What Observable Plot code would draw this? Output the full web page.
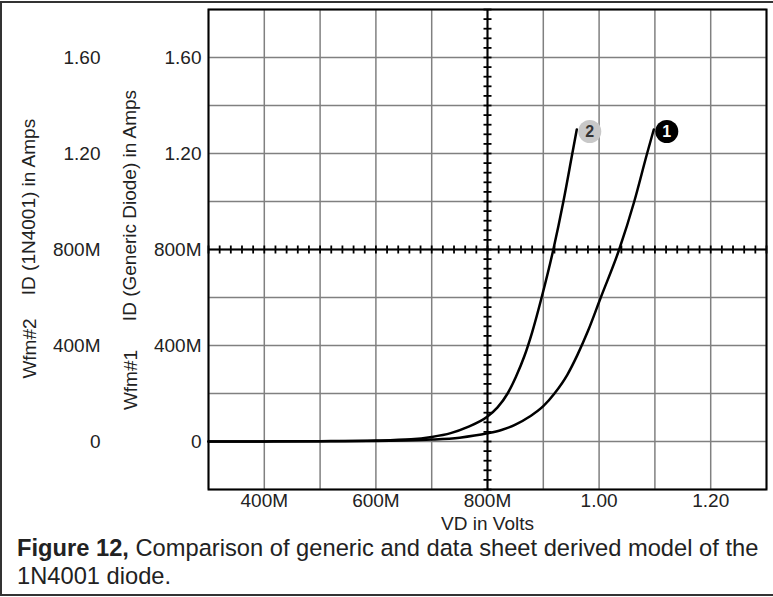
<!DOCTYPE html>
<html><head><meta charset="utf-8">
<script src="https://cdn.jsdelivr.net/npm/d3@7"></script>
<script src="https://cdn.jsdelivr.net/npm/@observablehq/plot@0.6"></script>
<style>
body{margin:0;background:#fff;font-family:"Liberation Sans",Arial,sans-serif;}
#wrap{position:relative;width:773px;height:597px;overflow:hidden;background:#fff;}
#border{position:absolute;left:0;top:1px;width:790px;height:595px;box-sizing:border-box;border:2px solid #333;pointer-events:none;}
#caption{margin-left:17px;font-size:23.7px;line-height:28px;color:#222;white-space:nowrap;}
#chart svg{display:block;}
</style></head><body>
<div id="wrap"><div id="chart"></div><div id="caption"><b>Figure 12,</b> Comparison of generic and data sheet derived model of the<br>1N4001 diode.</div><div id="border"></div></div>
<script>
// Wfm#1: ID (Generic Diode), marker 1
const vd1 = [0.30, 0.40, 0.50, 0.60, 0.65, 0.70, 0.75, 0.80, 0.825, 0.85, 0.875, 0.90, 0.92, 0.943, 0.961, 0.98, 1.003, 1.036, 1.063, 1.086, 1.098];
const id1 = [0, 0.0004, 0.001, 0.002, 0.004, 0.008, 0.016, 0.034, 0.048, 0.07, 0.103, 0.147, 0.2, 0.278, 0.36, 0.46, 0.6, 0.8, 1.0, 1.2, 1.3];
// Wfm#2: ID (1N4001), marker 2
const vd2 = [0.30, 0.40, 0.50, 0.60, 0.663, 0.70, 0.734, 0.764, 0.80, 0.818, 0.836, 0.851, 0.866, 0.88, 0.897, 0.918, 0.936, 0.952, 0.960];
const id2 = [0, 0.0005, 0.0015, 0.004, 0.009, 0.019, 0.035, 0.06, 0.104, 0.142, 0.2, 0.27, 0.355, 0.455, 0.6, 0.8, 1.0, 1.2, 1.3];

const xTicks = [0.4, 0.6, 0.8, 1.0, 1.2];
const xTickLabels = ["400M", "600M", "800M", "1.00", "1.20"];
const yTicks = [0, 0.4, 0.8, 1.2, 1.6];
const yTickLabels = ["0", "400M", "800M", "1.20", "1.60"];
const xGrid = [0.3, 0.4, 0.5, 0.6, 0.7, 0.8, 0.9, 1.0, 1.1, 1.2, 1.3];
const yGrid = [-0.2, 0, 0.2, 0.4, 0.6, 0.8, 1.0, 1.2, 1.4, 1.6, 1.8];
const xMinor = d3.range(0, 51).map(i => 0.3 + i * 0.02);
const yMinor = d3.range(0, 51).map(i => -0.2 + i * 0.04);
const crossX = 0.8, crossY = 0.8;

const s1 = vd1.map((v, i) => ({vd: v, id: id1[i]}));
const s2 = vd2.map((v, i) => ({vd: v, id: id2[i]}));
const markers = [
  {label: "1", vd: vd1[vd1.length - 1], id: id1[id1.length - 1], fill: "black", color: "white"},
  {label: "2", vd: vd2[vd2.length - 1], id: id2[id2.length - 1], fill: "#c8c8c8", color: "#333"}
];

const xFmt = new Map(xTicks.map((t, i) => [t, xTickLabels[i]]));
const yFmt = new Map(yTicks.map((t, i) => [t, yTickLabels[i]]));

const vTick = {draw(ctx, size) { const r = Math.sqrt(size / Math.PI); ctx.moveTo(0, -r); ctx.lineTo(0, r); }};
const hTick = {draw(ctx, size) { const r = Math.sqrt(size / Math.PI); ctx.moveTo(-r, 0); ctx.lineTo(r, 0); }};

const grid = {stroke: "#808080", strokeOpacity: 1, strokeWidth: 1.5};
const title = {text: d => d, frameAnchor: "left", rotate: -90, textAnchor: "middle"};

const chart = Plot.plot({
  width: 773, height: 534,
  marginTop: 9, marginBottom: 45, marginLeft: 208, marginRight: 7,
  style: {fontFamily: '"Liberation Sans", Arial, sans-serif', fontSize: "19px", color: "#222", background: "white", overflow: "visible"},
  x: {domain: [0.3, 1.3]},
  y: {domain: [-0.2, 1.8]},
  marks: [
    Plot.gridX(xGrid, grid),
    Plot.gridY(yGrid, grid),
    Plot.ruleX([crossX], {stroke: "black", strokeWidth: 2}),
    Plot.ruleY([crossY], {stroke: "black", strokeWidth: 2}),
    Plot.dot(xMinor, {x: d => d, y: () => crossY, symbol: vTick, r: 4, stroke: "black", strokeWidth: 1.8, fill: "none"}),
    Plot.dot(yMinor, {x: () => crossX, y: d => d, symbol: hTick, r: 4, stroke: "black", strokeWidth: 1.8, fill: "none"}),
    Plot.line(s2, {x: "vd", y: "id", curve: "monotone-x", stroke: "black", strokeWidth: 2.5}),
    Plot.line(s1, {x: "vd", y: "id", curve: "monotone-x", stroke: "black", strokeWidth: 2.5}),
    Plot.frame({stroke: "black", strokeWidth: 2}),
    Plot.axisX(xTicks, {tickSize: 0, tickPadding: 4, tickFormat: d => xFmt.get(d), label: null}),
    Plot.axisY(yTicks, {tickSize: 0, tickPadding: 7, tickFormat: d => yFmt.get(d), label: null}),
    Plot.axisY(yTicks, {tickSize: 0, tickPadding: 108, tickFormat: d => yFmt.get(d), label: null}),
    Plot.dot(markers, {x: "vd", y: "id", r: 11.5, fill: "fill", dx: 13, dy: 2}),
    Plot.text(markers, {x: "vd", y: "id", text: "label", fill: "color", dx: 13, dy: 2, fontWeight: "bold", fontSize: 16}),
    Plot.text(["VD in Volts"], {text: d => d, frameAnchor: "bottom", lineAnchor: "middle", dy: 34}),
    Plot.text(["ID (1N4001) in Amps"], {...title, dx: -180, dy: -42.5}),
    Plot.text(["Wfm#2"], {...title, dx: -179, dy: 99}),
    Plot.text(["ID (Generic Diode) in Amps"], {...title, dx: -79, dy: -44}),
    Plot.text(["Wfm#1"], {...title, dx: -78, dy: 130.5})
  ]
});
document.getElementById("chart").appendChild(chart);
</script>
</body></html>
